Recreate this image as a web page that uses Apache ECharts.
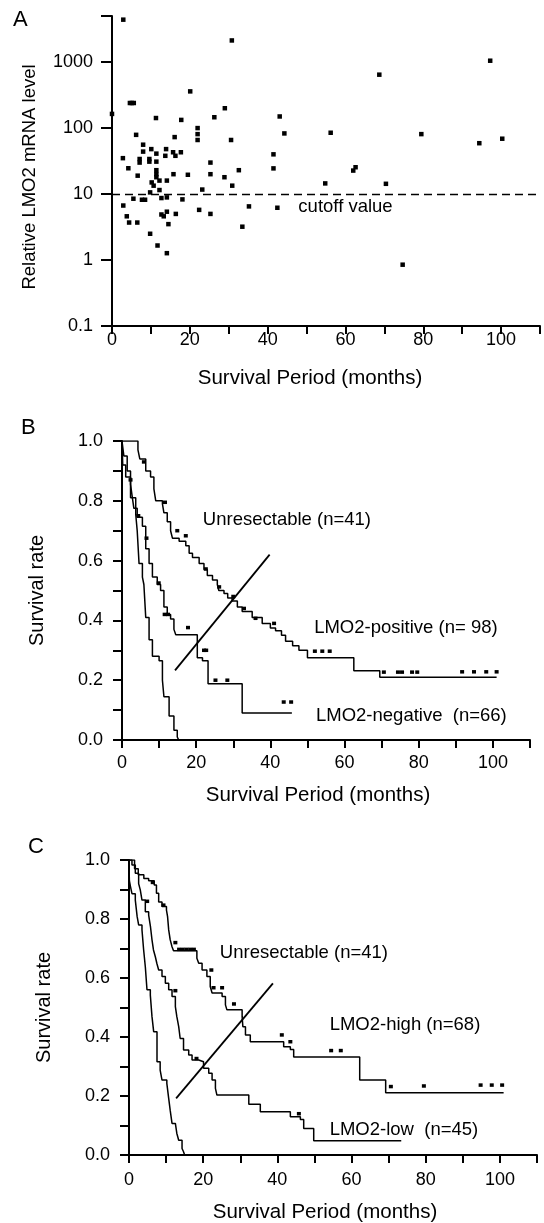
<!DOCTYPE html>
<html>
<head>
<meta charset="utf-8">
<title>LMO2 expression and survival</title>
<script src="https://cdn.jsdelivr.net/npm/echarts@6/dist/echarts.min.js"></script>
<style>
  html, body { margin: 0; padding: 0; background: #fff; }
  #chart { width: 544px; height: 1223px; }
</style>
</head>
<body>
<div id="chart"></div>
<script>
// ---- Panel A: survival period (months) vs relative LMO2 mRNA level ----
const scatterPoints = [
  [2.9, 4400], [30.8, 2130], [68.7, 645], [97.2, 1050],
  [4.6, 240], [5.1, 240], [5.6, 240], [20.1, 360], [0, 164],
  [11.3, 142], [17.8, 133], [26.3, 146], [29.0, 200], [43.1, 150],
  [22.0, 100], [22.0, 81], [22.0, 66], [30.6, 66], [6.2, 79], [16.1, 73],
  [44.3, 83], [56.2, 85], [79.5, 81], [94.4, 59], [100.3, 69],
  [8.0, 56], [8.0, 44], [10.1, 48], [11.4, 41], [13.9, 48], [13.7, 38],
  [15.7, 43], [16.3, 38], [17.7, 43], [7.1, 34], [7.1, 30], [9.6, 34],
  [9.6, 31], [11.4, 31], [2.8, 35], [4.2, 24.6], [6.6, 19],
  [11.4, 23], [11.4, 20], [11.4, 18], [10.2, 15], [10.7, 13.4],
  [12.2, 16], [14.1, 16], [15.8, 20], [19.5, 19.6], [25.3, 30], [25.3, 20],
  [28.9, 18], [32.6, 23], [41.5, 40], [41.5, 24.5], [30.9, 13.4],
  [12.2, 11.5], [23.2, 11.7], [9.8, 10.6],
  [5.5, 8.5], [7.7, 8.2], [8.5, 8.2], [12.7, 8.7], [14.1, 8.9], [18.1, 8.3],
  [2.9, 6.7], [3.8, 4.6], [4.4, 3.7], [6.5, 3.7], [12.7, 4.9], [13.3, 4.6],
  [14.1, 5.4], [14.5, 3.5], [16.4, 5.0], [9.8, 2.5], [11.7, 1.66], [14.1, 1.27],
  [22.4, 5.76], [25.3, 5.0], [35.2, 6.5], [33.5, 3.2], [42.5, 6.2],
  [54.8, 14.5], [62.0, 22.7], [62.6, 25.5], [70.4, 14.3], [74.7, 0.85]
];
const cutoffValue = 10;
const cutoffLabelAt = [47.9, 6.3];
const logTickLabels = [0.1, 1, 10, 100, 1000];

// ---- Panel B: Kaplan-Meier curves, [month, survival rate] ----
const bPositive = [
  [0, 1], [4.3, 0.97], [4.8, 0.94], [6.4, 0.9], [7.7, 0.88], [8.6, 0.84], [9.1, 0.8],
  [10.9, 0.79], [11.3, 0.76], [12.2, 0.73], [13.1, 0.7], [13.6, 0.675], [15.4, 0.665],
  [17.2, 0.65], [18.1, 0.625], [19.0, 0.61], [20.8, 0.59], [22.1, 0.57], [23.0, 0.55],
  [24.4, 0.535], [25.7, 0.52], [26.1, 0.5], [27.5, 0.49], [28.5, 0.475], [29.7, 0.465],
  [31.1, 0.445], [32.4, 0.43], [35.1, 0.41], [37.8, 0.39], [40.0, 0.375], [41.4, 0.365],
  [43.0, 0.35], [44.1, 0.33], [46.0, 0.315], [47.7, 0.3], [50.0, 0.275], [62.5, 0.232],
  [69.5, 0.21], [101, 0.21]
];
const bNegative = [
  [0, 1], [0.5, 0.95], [1.4, 0.9], [2.3, 0.855], [2.8, 0.81], [3.2, 0.775], [4.1, 0.745],
  [5.5, 0.715], [6.4, 0.64], [7.3, 0.59], [8.2, 0.545], [9.5, 0.52], [10.4, 0.5],
  [11.3, 0.445], [12.2, 0.42], [13.1, 0.405], [14.0, 0.37], [14.5, 0.352], [20.3, 0.275],
  [21.7, 0.265], [23.2, 0.188], [32.4, 0.09], [45.8, 0.09]
];
const bUnresectable = [
  [0, 1], [0.2, 0.92], [1.0, 0.88], [2.3, 0.81], [3.7, 0.755], [4.1, 0.7], [4.6, 0.59],
  [5.5, 0.545], [5.9, 0.52], [6.4, 0.41], [7.3, 0.335], [8.2, 0.28], [10.0, 0.265],
  [10.9, 0.2], [11.3, 0.145], [12.7, 0.08], [14.0, 0.033], [14.9, 0.01], [15.3, 0]
];
const bPositiveCensored = [
  [4.5, 1.005], [5.9, 0.93], [11.6, 0.795], [14.9, 0.7], [17.2, 0.683], [22.6, 0.572],
  [26.2, 0.512], [30.0, 0.48], [32.9, 0.44], [36.0, 0.407], [41.0, 0.39],
  [52.0, 0.297], [54.0, 0.297], [56.0, 0.297],
  [70.6, 0.227], [74.4, 0.227], [75.5, 0.227], [78.2, 0.227], [79.6, 0.227],
  [91.7, 0.228], [94.9, 0.228], [98.2, 0.228], [101, 0.228]
];
const bNegativeCensored = [
  [2.3, 0.87], [4.4, 0.75], [6.6, 0.675], [9.9, 0.525], [11.5, 0.42], [12.4, 0.42],
  [17.8, 0.376], [22.1, 0.3], [22.7, 0.3], [25.2, 0.2], [28.4, 0.2], [43.6, 0.127], [45.6, 0.127]
];
const bGuideLine = [[14.3, 0.233], [39.8, 0.62]];
const bCurveNames = ['Unresectable (n=41)', 'LMO2-positive (n= 98)', 'LMO2-negative  (n=66)'];
const bNameAnchors = [[21.8, 0.736], [51.8, 0.375], [52.3, 0.08]];

// ---- Panel C: Kaplan-Meier curves, [month, survival rate] ----
const cHigh = [
  [0, 1], [1.5, 0.97], [2.5, 0.95], [4.0, 0.937], [5.3, 0.93], [6.8, 0.915], [7.4, 0.887],
  [8.0, 0.858], [8.9, 0.842], [10.1, 0.83], [10.4, 0.808], [10.7, 0.763], [11.1, 0.73],
  [11.6, 0.706], [12.0, 0.692], [18.3, 0.667], [18.8, 0.65], [19.7, 0.627], [21.0, 0.605],
  [21.9, 0.571], [22.4, 0.549], [25.1, 0.537], [26.0, 0.509], [26.4, 0.492], [30.5, 0.469],
  [30.7, 0.435], [31.4, 0.407], [32.7, 0.384], [41.7, 0.367], [43.5, 0.358], [44.4, 0.332],
  [62.2, 0.254], [69.2, 0.211], [101, 0.211]
];
const cLow = [
  [0, 1], [0.8, 0.983], [1.7, 0.955], [2.6, 0.92], [3.05, 0.898], [3.5, 0.864], [4.4, 0.825],
  [5.3, 0.813], [5.8, 0.773], [6.2, 0.729], [6.6, 0.695], [7.1, 0.672], [7.5, 0.65],
  [8.0, 0.627], [8.9, 0.605], [9.8, 0.582], [10.7, 0.56], [11.6, 0.537], [12.5, 0.503],
  [12.9, 0.469], [13.4, 0.435], [13.8, 0.395], [14.7, 0.356], [16.1, 0.339], [17.0, 0.322],
  [18.8, 0.316], [20.1, 0.294], [21.5, 0.277], [22.4, 0.254], [23.3, 0.226], [23.7, 0.203],
  [32.3, 0.172], [35.4, 0.147], [43.5, 0.13], [46.2, 0.12], [47.1, 0.09], [49.8, 0.048],
  [73.4, 0.048]
];
const cUnresectable = [
  [0, 1], [0.1, 0.93], [0.4, 0.91], [0.8, 0.886], [1.7, 0.864], [2.2, 0.808], [2.6, 0.78],
  [3.5, 0.763], [3.95, 0.695], [4.4, 0.638], [4.85, 0.56], [5.75, 0.542], [6.2, 0.469],
  [6.65, 0.418], [7.55, 0.316], [8.4, 0.288], [8.9, 0.254], [10.2, 0.243], [10.7, 0.192],
  [11.1, 0.152], [11.6, 0.107], [12.5, 0.101], [12.9, 0.073], [13.4, 0.05], [14.3, 0.022],
  [14.7, 0.011], [15.0, 0]
];
const cHighCensored = [
  [6.4, 0.924], [9.3, 0.847], [12.5, 0.72], [13.5, 0.697], [14.5, 0.697], [15.5, 0.697],
  [16.5, 0.697], [17.5, 0.697], [22.2, 0.627], [22.8, 0.567], [25.1, 0.567], [28.3, 0.512],
  [41.2, 0.407], [43.5, 0.384], [54.5, 0.354], [57.1, 0.354], [70.6, 0.232], [79.5, 0.234],
  [94.8, 0.237], [97.8, 0.237], [100.6, 0.237]
];
const cLowCensored = [[4.9, 0.86], [12.5, 0.557], [18.2, 0.327], [45.8, 0.14]];
const cGuideLine = [[12.7, 0.192], [38.8, 0.582]];
const cCurveNames = ['Unresectable (n=41)', 'LMO2-high (n=68)', 'LMO2-low  (n=45)'];
const cNameAnchors = [[24.5, 0.685], [54.1, 0.44], [54.1, 0.085]];

const monthTickLabels = [0, 20, 40, 60, 80, 100];
const rateTickLabels = [0, 0.2, 0.4, 0.6, 0.8, 1.0];

const FONT = '"Liberation Sans", Arial, Helvetica, sans-serif';
const INK = '#000';

const chart = echarts.init(document.getElementById('chart'), null, { renderer: 'canvas' });

function monthAxis(gridIndex, margin, nameGap, nameShift) {
  return {
    type: 'value', gridIndex, min: 0, max: 110, interval: 10,
    name: 'Survival Period (months)', nameLocation: 'middle', nameGap,
    nameTextStyle: { fontSize: 20.5, color: INK, fontFamily: FONT, padding: [0, nameShift, 0, 0] },
    axisLine: { show: true, onZero: false, lineStyle: { color: INK, width: 2 } },
    axisTick: { show: true, length: 8, lineStyle: { color: INK, width: 2 } },
    axisLabel: {
      margin, fontSize: 18, color: INK, fontFamily: FONT,
      formatter: v => monthTickLabels.includes(v) ? String(v) : ''
    },
    splitLine: { show: false }
  };
}

function rateAxis(gridIndex, nameGap) {
  return {
    type: 'value', gridIndex, min: 0, max: 1, interval: 0.1,
    name: 'Survival rate', nameLocation: 'middle', nameGap,
    nameTextStyle: { fontSize: 20, color: INK, fontFamily: FONT },
    axisLine: { show: true, onZero: false, lineStyle: { color: INK, width: 2 } },
    axisTick: { show: true, length: 9, lineStyle: { color: INK, width: 2 } },
    axisLabel: {
      margin: 19, fontSize: 18, color: INK, fontFamily: FONT,
      formatter: v => {
        const r = Math.round(v * 10) / 10;
        return rateTickLabels.includes(r) ? r.toFixed(1) : '';
      }
    },
    splitLine: { show: false }
  };
}

function kmSeries(idx, data) {
  return {
    type: 'line', xAxisIndex: idx, yAxisIndex: idx, data, step: 'end',
    showSymbol: false, silent: true, animation: false,
    lineStyle: { color: INK, width: 1.5 }
  };
}

function censorSeries(idx, data) {
  return {
    type: 'scatter', xAxisIndex: idx, yAxisIndex: idx, data,
    symbol: 'rect', symbolSize: [4, 3.5], silent: true, animation: false,
    itemStyle: { color: INK, opacity: 1 }
  };
}

function guideSeries(idx, data) {
  return {
    type: 'line', xAxisIndex: idx, yAxisIndex: idx, data,
    showSymbol: false, silent: true, animation: false,
    lineStyle: { color: INK, width: 1.8 }
  };
}

function nameSeries(idx, anchors, names) {
  return {
    type: 'scatter', xAxisIndex: idx, yAxisIndex: idx, symbolSize: 0, silent: true,
    animation: false,
    itemStyle: { opacity: 1 },
    data: anchors.map((p, i) => ({ value: p, name: names[i] })),
    label: {
      show: true, position: 'right', distance: 0, formatter: '{b}',
      fontSize: 18.5, color: INK, fontFamily: FONT
    }
  };
}

const option = {
  backgroundColor: '#fff',
  animation: false,
  grid: [
    { left: 112, right: 4, top: 16, bottom: 897, outerBoundsMode: 'none' },
    { left: 122, right: 14, top: 441, bottom: 483, outerBoundsMode: 'none' },
    { left: 129, right: 7, top: 860, bottom: 68, outerBoundsMode: 'none' }
  ],
  graphic: [
    { type: 'text', left: 13, top: 9, style: { text: 'A', fontSize: 22, fill: INK, fontFamily: FONT } },
    { type: 'text', left: 21, top: 417, style: { text: 'B', fontSize: 22, fill: INK, fontFamily: FONT } },
    { type: 'text', left: 28, top: 836, style: { text: 'C', fontSize: 22, fill: INK, fontFamily: FONT } }
  ],
  xAxis: [
    monthAxis(0, 5, 42, 32),
    monthAxis(1, 14, 45, 16),
    monthAxis(2, 16, 47, 16)
  ],
  yAxis: [
    {
      type: 'log', gridIndex: 0, logBase: 10, min: 0.1, max: 5000,
      name: 'Relative LMO2 mRNA level', nameLocation: 'middle', nameGap: 73,
      nameTextStyle: { fontSize: 18.5, color: INK, fontFamily: FONT, padding: [0, 12, 0, 0] },
      axisLine: { show: true, onZero: false, lineStyle: { color: INK, width: 2 } },
      axisTick: { show: true, length: 11, lineStyle: { color: INK, width: 2 } },
      axisLabel: {
        margin: 19, fontSize: 18, color: INK, fontFamily: FONT,
        formatter: v => {
          const hit = logTickLabels.find(t => Math.abs(t - v) / t < 1e-6);
          return hit !== undefined ? String(hit) : '';
        }
      },
      splitLine: { show: false }
    },
    rateAxis(1, 75),
    rateAxis(2, 75)
  ],
  series: [
    {
      type: 'scatter', xAxisIndex: 0, yAxisIndex: 0, data: scatterPoints,
      symbol: 'rect', symbolSize: 4.5, silent: true, animation: false,
      itemStyle: { color: INK, opacity: 1 },
      markLine: {
        silent: true, symbol: 'none', animation: false,
        label: { show: false },
        lineStyle: { color: INK, width: 1.4, type: [8, 5] },
        data: [{ yAxis: cutoffValue }]
      }
    },
    {
      type: 'scatter', xAxisIndex: 0, yAxisIndex: 0, symbolSize: 0, silent: true,
      animation: false,
      itemStyle: { opacity: 1 },
      data: [{ value: cutoffLabelAt, name: 'cutoff value' }],
      label: {
        show: true, position: 'right', distance: 0, formatter: '{b}',
        fontSize: 18.5, color: INK, fontFamily: FONT
      }
    },
    kmSeries(1, bPositive),
    kmSeries(1, bNegative),
    kmSeries(1, bUnresectable),
    censorSeries(1, bPositiveCensored),
    censorSeries(1, bNegativeCensored),
    guideSeries(1, bGuideLine),
    nameSeries(1, bNameAnchors, bCurveNames),
    kmSeries(2, cHigh),
    kmSeries(2, cLow),
    kmSeries(2, cUnresectable),
    censorSeries(2, cHighCensored),
    censorSeries(2, cLowCensored),
    guideSeries(2, cGuideLine),
    nameSeries(2, cNameAnchors, cCurveNames)
  ]
};

chart.setOption(option);
</script>
</body>
</html>
